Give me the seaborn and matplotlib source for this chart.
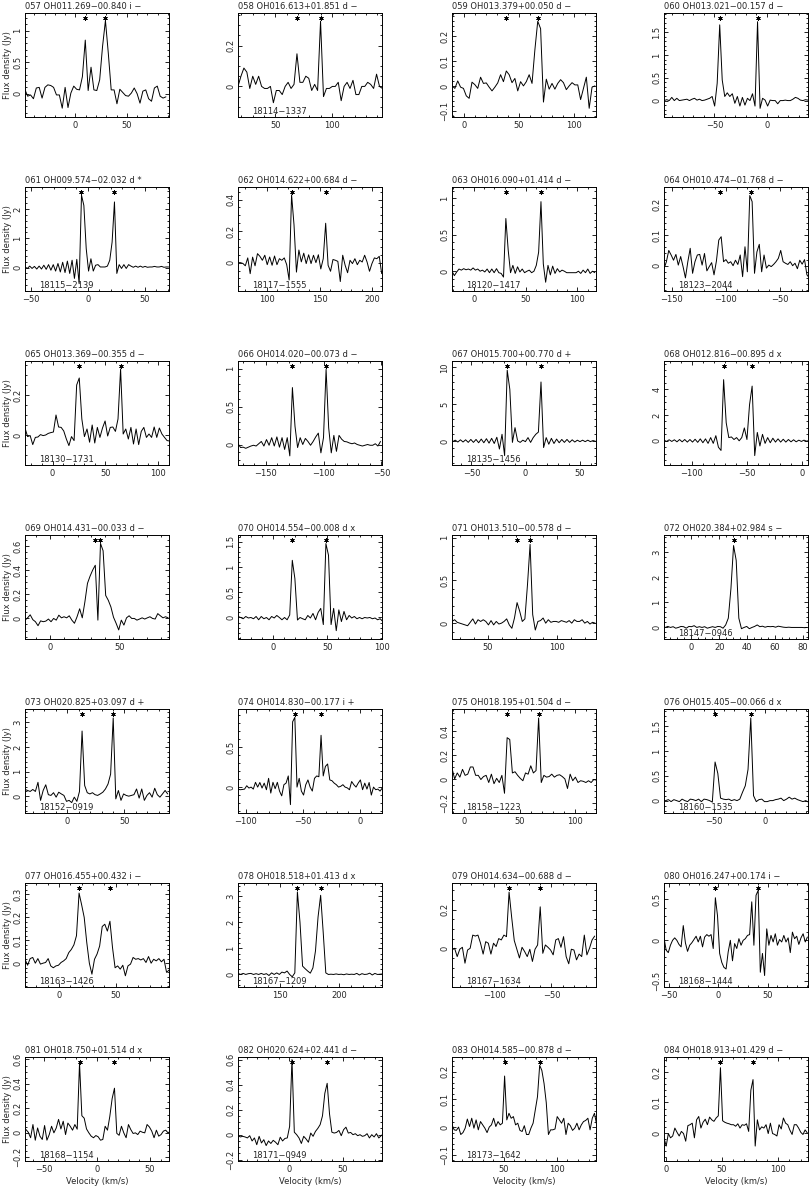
import numpy as np
import matplotlib
matplotlib.use("Agg")
import matplotlib.pyplot as plt
import matplotlib.transforms as mtransforms
from matplotlib.ticker import MultipleLocator, AutoMinorLocator
from matplotlib import font_manager
import seaborn as sns

# ---------------- data ----------------
titles = [
    "057 OH011.269−00.840 i −", "058 OH016.613+01.851 d −", "059 OH013.379+00.050 d −", "060 OH013.021−00.157 d −",
    "061 OH009.574−02.032 d *", "062 OH014.622+00.684 d −", "063 OH016.090+01.414 d −", "064 OH010.474−01.768 d −",
    "065 OH013.369−00.355 d −", "066 OH014.020−00.073 d −", "067 OH015.700+00.770 d +", "068 OH012.816−00.895 d x",
    "069 OH014.431−00.033 d −", "070 OH014.554−00.008 d x", "071 OH013.510−00.578 d −", "072 OH020.384+02.984 s −",
    "073 OH020.825+03.097 d +", "074 OH014.830−00.177 i +", "075 OH018.195+01.504 d −", "076 OH015.405−00.066 d x",
    "077 OH016.455+00.432 i −", "078 OH018.518+01.413 d x", "079 OH014.634−00.688 d −", "080 OH016.247+00.174 i −",
    "081 OH018.750+01.514 d x", "082 OH020.624+02.441 d −", "083 OH014.585−00.878 d −", "084 OH018.913+01.429 d −",
]
source_labels = [
    "", "18114−1337", "", "",
    "18115−2139", "18117−1555", "18120−1417", "18123−2044",
    "18130−1731", "", "18135−1456", "",
    "", "", "", "18147−0946",
    "18152−0919", "", "18158−1223", "18160−1535",
    "18163−1426", "18167−1209", "18167−1634", "18168−1444",
    "18168−1154", "18171−0949", "18173−1642", "",
]
# first channel velocity and channel width (km/s)
vel_start = [-52, 17, -11, -97.8, -55, 73, -21, -157,
             -26, -174, -67.4, -125, -18, -32, 24, -20.5,
             -37, -107, -11, -102.8, -30, 115, -137, -55,
             -69.3, -48, 1, -1.5]
vel_step = [2.8, 2.6, 2.6, 2.4, 2.06, 2.3, 2.26, 2.2,
            2.44, 2.24, 2.4, 2.34, 1.88, 2.37, 1.88, 1.88,
            2.27, 1.92, 2.37, 2.69, 2.27, 2.17, 2.27, 2.17,
            2.2, 2.2, 2.07, 1.93]
star_vel = [[9.6, 29.2], [69.0, 89.8], [38.4, 67.0], [-45.0, -9.0],
            [-5.6, 23.3], [123.6, 155.8], [31.0, 64.9], [-105.0, -77.0],
            [25.2, 64.3], [-127.0, -97.8], [-17.0, 14.2], [-71.2, -45.4],
            [32.8, 36.5], [17.8, 48.6], [71.0, 80.4], [30.3],
            [12.9, 40.2], [-57.1, -34.0], [38.8, 67.2], [-49.0, -14.0],
            [17.7, 44.9], [164.9, 184.4], [-87.1, -59.8], [-2.9, 40.5],
            [-16.5, 16.5], [2.6, 35.6], [50.7, 83.8], [48.7, 77.6]]
x_range = [(-49, 91), (17, 144), (-11, 120), (-98, 39),
           (-55, 71), (73, 209), (-21, 118), (-157, -24),
           (-26, 110), (-174, -49.5), (-68, 65), (-125, 5),
           (-18, 86), (-32, 100), (24, 128), (-19.5, 83.5),
           (-37, 89), (-107, 19.5), (-11, 119), (-99, 42),
           (-30, 97), (115, 236), (-137, -11), (-55, 91),
           (-68, 68), (-48, 87), (1, 137), (-1.5, 126.5)]
x_major = [50, 50, 50, 50, 50, 50, 50, 50,
           50, 50, 50, 50, 50, 50, 50, 20,
           50, 50, 50, 50, 50, 50, 50, 50,
           50, 50, 50, 50]
y_range = [(-0.37, 1.28), (-0.15, 0.36), (-0.125, 0.293), (-0.36, 1.92),
           (-0.8, 2.75), (-0.18, 0.48), (-0.27, 1.15), (-0.083, 0.258),
           (-0.15, 0.37), (-0.27, 1.1), (-3.27, 10.85), (-1.88, 6.2),
           (-0.17, 0.69), (-0.425, 1.63), (-0.185, 1.03), (-0.46, 3.68),
           (-0.67, 3.53), (-0.325, 0.98), (-0.285, 0.585), (-0.25, 1.85),
           (-0.104, 0.35), (-0.48, 3.5), (-0.2, 0.337), (-0.57, 0.70),
           (-0.23, 0.62), (-0.21, 0.62), (-0.123, 0.254), (-0.092, 0.249)]
y_ticks = [[0, 0.5, 1], [0, 0.2], [-0.1, 0, 0.1, 0.2], [0, 0.5, 1, 1.5],
           [0, 1, 2], [0, 0.2, 0.4], [0, 0.5, 1], [0, 0.1, 0.2],
           [0, 0.2], [0, 0.5, 1], [0, 5, 10], [0, 2, 4],
           [0, 0.2, 0.4, 0.6], [0, 0.5, 1, 1.5], [0, 0.5, 1], [0, 1, 2, 3],
           [0, 1, 2, 3], [0, 0.5], [-0.2, 0, 0.2, 0.4], [0, 0.5, 1, 1.5],
           [0, 0.1, 0.2, 0.3], [0, 1, 2, 3], [0, 0.2], [-0.5, 0, 0.5],
           [-0.2, 0, 0.2, 0.4, 0.6], [-0.2, 0, 0.2, 0.4, 0.6], [-0.1, 0, 0.1, 0.2], [0, 0.1, 0.2]]

flux_057 = [0.06, 0.07, -0.04, -0.02, -0.08, 0.09, 0.10, -0.07, 0.10, 0.14, 0.13, 0.10, -0.02, -0.02, -0.23, 0.10, -0.22,
            0.01, 0.12, 0.07, 0.06, 0.27, 0.85, 0.05, 0.42, 0.06, 0.05, 0.22, 0.75, 1.16, 0.64, 0.06, 0.06, -0.16, 0.07,
            0.02, -0.03, -0.04, 0.01, 0.09, 0.00, -0.15, 0.04, 0.06, -0.08, -0.12, 0.09, 0.12, -0.04, -0.07, -0.05]
flux_058 = [0.0, 0.05, 0.09, 0.07, -0.01, 0.05, 0.01, 0.05, 0.0, -0.01, -0.01, 0.0, -0.08, -0.02, -0.02, -0.04, 0.0, 0.02,
            -0.01, 0.01, 0.16, 0.02, 0.02, 0.05, 0.04, -0.02, 0.01, -0.02, 0.32, -0.05, -0.01, -0.01, 0.0, 0.0, 0.02,
            -0.07, 0.0, 0.02, -0.01, 0.03, -0.04, -0.04, 0.0, 0.0, 0.02, 0.01, -0.01, 0.06, 0.0, -0.01]
flux_059 = [0.0, -0.01, 0.02, -0.005, -0.01, -0.04, -0.05, 0.015, 0.005, -0.01, 0.035, 0.01, 0.012, -0.005, -0.02, -0.005,
            0.012, 0.045, 0.017, 0.06, 0.045, 0.013, 0.03, -0.02, 0.017, 0.0, 0.017, 0.045, 0.01, 0.145, 0.26, 0.23,
            -0.065, 0.027, -0.013, 0.01, -0.013, 0.01, 0.025, 0.013, -0.015, 0.0, 0.013, 0.004, 0.004, -0.055, -0.01,
            0.035, -0.09, -0.005, 0.0]
flux_060 = [0.0, 0.02, 0.0, 0.07, 0.0, 0.05, 0.0, 0.01, 0.02, 0.03, 0.0, 0.03, 0.05, 0.01, 0.03, 0.0, 0.01, 0.03, 0.05,
            0.09, -0.12, 0.38, 1.66, 0.45, 0.09, 0.17, 0.09, 0.15, -0.06, 0.09, -0.12, 0.07, -0.1, 0.05, 0.0, 0.15, -0.12,
            1.73, -0.17, 0.05, 0.01, -0.12, 0.01, 0.0, 0.0, -0.07, 0.0, 0.0, 0.01, 0.0, 0.0, 0.03, 0.07, 0.05, 0.01, 0.0,
            0.02, 0.01]
flux_061 = [0.02, -0.03, 0.05, -0.03, 0.04, -0.05, 0.05, -0.05, 0.08, -0.06, 0.1, -0.09, 0.1, -0.12, 0.14, -0.15, 0.18,
            -0.17, 0.22, -0.2, 0.25, -0.37, 0.28, -0.55, 2.47, 2.12, 0.65, -0.12, 0.3, -0.12, 0.08, 0.1, 0.02, 0.02, 0.02,
            0.05, 0.25, 0.87, 2.24, -0.2, 0.1, -0.03, 0.1, -0.03, 0.1, 0.05, 0.01, 0.05, 0.01, 0.05, 0.01, 0.04, 0.01,
            0.02, 0.02, 0.04, 0.02, 0.02, 0.04, 0.01, 0.02, 0.02]
flux_062 = [0.0, 0.0, -0.005, -0.02, 0.03, -0.07, 0.035, -0.02, 0.057, 0.04, 0.015, 0.047, -0.013, 0.036, -0.017, 0.042,
            -0.013, 0.025, 0.015, 0.03, -0.013, -0.11, 0.43, 0.24, -0.06, 0.08, 0.005, 0.06, -0.006, 0.05, -0.006, 0.047,
            0.0, 0.05, -0.04, 0.025, 0.25, -0.017, -0.055, 0.02, 0.015, 0.008, -0.12, 0.047, -0.017, -0.064, 0.015,
            -0.006, 0.025, -0.013, 0.015, 0.004, 0.047, 0.004, -0.055, -0.006, 0.03, 0.025, 0.04, -0.07]
flux_063 = [0.0, -0.06, -0.01, 0.03, 0.015, 0.035, 0.02, 0.03, 0.015, 0.045, 0.015, 0.03, 0.0, 0.015, -0.01, 0.03, -0.02,
            0.03, -0.02, 0.035, -0.02, -0.03, -0.08, 0.72, 0.29, -0.02, 0.08, -0.03, 0.06, -0.01, 0.03, -0.02, 0.0, 0.015,
            -0.02, 0.0, 0.08, 0.26, 0.95, 0.1, -0.15, 0.08, -0.05, 0.07, -0.03, 0.035, -0.01, 0.015, 0.0, -0.02, -0.02,
            -0.02, -0.02, -0.02, 0.0, -0.03, 0.015, -0.02, 0.03, -0.03, 0.0, -0.02]
flux_064 = [-0.01, 0.013, 0.05, 0.035, 0.018, 0.037, 0.002, 0.03, -0.003, -0.04, 0.013, 0.057, -0.025, 0.013, 0.035,
            0.037, 0.002, 0.04, -0.017, -0.003, 0.01, -0.03, 0.015, 0.084, 0.095, 0.013, 0.02, 0.008, 0.013, 0.0, 0.018,
            0.004, 0.035, -0.036, 0.062, -0.02, 0.23, 0.21, -0.025, 0.045, 0.07, -0.02, 0.035, -0.008, 0.002, -0.003,
            0.004, 0.013, 0.024, 0.05, 0.013, 0.008, 0.004, 0.013, 0.0, 0.008, -0.01, 0.018, 0.005, 0.02, -0.03, -0.04]
flux_065 = [0.035, -0.008, -0.003, -0.048, -0.012, -0.01, 0.002, -0.003, 0.0, 0.008, 0.012, 0.015, 0.1, 0.04, 0.038,
            0.02, -0.02, -0.053, -0.008, -0.028, 0.25, 0.285, 0.08, -0.008, 0.03, -0.036, 0.05, -0.04, 0.038, -0.012,
            0.035, 0.07, -0.005, 0.038, 0.04, 0.018, 0.08, 0.33, 0.005, 0.03, -0.02, 0.038, -0.045, 0.03, -0.048, 0.018,
            0.038, -0.012, 0.005, -0.012, 0.04, -0.012, 0.035, 0.005, -0.012, -0.028, -0.03]
flux_066 = [0.01, -0.04, -0.035, -0.05, -0.035, -0.02, -0.01, -0.02, 0.01, 0.04, -0.02, 0.065, -0.01, 0.09, -0.02, 0.1,
            -0.035, 0.09, -0.065, 0.09, -0.15, 0.75, 0.24, -0.04, 0.09, 0.0, 0.08, 0.04, -0.01, 0.04, 0.1, 0.15, -0.11,
            0.09, 0.99, 0.22, -0.11, 0.12, -0.09, 0.12, 0.07, 0.04, 0.035, 0.02, 0.01, 0.02, 0.0, -0.01, -0.02, -0.01,
            0.0, -0.01, -0.01, 0.01, -0.02, 0.04]
flux_067 = [-0.1, 0.1, -0.15, 0.15, -0.15, 0.15, -0.2, 0.2, -0.2, 0.2, -0.25, 0.25, -0.25, 0.3, -0.3, 0.35, -0.35, 0.5,
            -1.1, 0.9, -2.0, 9.6, 7.0, -0.2, 1.8, 0.0, -0.2, 0.1, -0.1, 0.45, -0.2, 0.45, 0.9, 1.2, 8.0, -0.9, 0.45,
            -0.45, 0.35, -0.35, 0.25, -0.25, 0.2, -0.2, 0.2, -0.2, 0.15, -0.15, 0.1, -0.1, 0.1, -0.1, 0.1, -0.1, 0.05,
            -0.05]
flux_068 = [0.05, -0.05, 0.08, -0.05, 0.08, -0.08, 0.1, -0.08, 0.1, -0.1, 0.1, -0.1, 0.12, -0.12, 0.15, -0.15, 0.15, -0.2,
            0.25, -0.2, 0.4, -0.5, -0.75, 4.75, 1.4, 0.25, 0.3, 0.1, 0.25, 0.0, 0.25, 1.0, 0.1, 2.8, 4.25, -1.15, 0.65,
            -0.4, 0.5, -0.2, 0.25, -0.15, 0.2, -0.1, 0.15, -0.1, 0.12, -0.1, 0.1, -0.08, 0.08, -0.08, 0.05, -0.05, 0.05,
            -0.03, 0.02]
flux_069 = [-0.014, 0.005, 0.03, -0.01, -0.027, -0.06, -0.02, -0.027, -0.022, -0.005, -0.027, 0.0, -0.014, 0.027, 0.005,
            0.014, 0.005, 0.022, -0.014, -0.04, 0.014, 0.08, 0.005, 0.136, 0.29, 0.35, 0.4, 0.44, -0.014, 0.62, 0.56,
            0.19, 0.15, 0.095, 0.01, -0.04, -0.095, -0.014, -0.055, 0.005, 0.022, 0.0, 0.0, -0.014, -0.005, 0.005,
            -0.005, 0.005, 0.014, 0.0, -0.005, 0.04, 0.022, 0.005, 0.014, 0.005]
flux_070 = [0.02, 0.0, -0.025, 0.02, -0.01, 0.0, -0.025, 0.02, -0.045, 0.02, -0.025, 0.0, -0.045, 0.02, -0.01, 0.04, 0.0,
            -0.045, 0.0, -0.045, 0.05, 1.13, 0.77, -0.05, 0.0, -0.025, -0.045, 0.04, -0.01, 0.08, -0.045, 0.1, 0.18,
            -0.14, 1.46, 1.23, -0.14, 0.18, -0.26, 0.15, -0.08, 0.12, -0.045, 0.04, -0.01, 0.02, -0.025, 0.0, -0.025,
            0.0, -0.01, 0.0, -0.025, -0.01, -0.045, -0.025, -0.08]
flux_071 = [0.02, 0.04, 0.01, 0.0, -0.01, -0.02, -0.03, 0.01, 0.05, -0.01, 0.04, 0.02, 0.04, 0.02, -0.02, 0.03, -0.02,
            0.02, -0.01, 0.0, 0.02, 0.05, -0.02, -0.06, 0.06, 0.24, 0.14, 0.02, 0.05, 0.45, 0.92, 0.1, -0.08, 0.02, 0.03,
            0.06, 0.0, 0.04, 0.01, 0.02, 0.02, 0.01, 0.03, 0.02, 0.01, 0.03, 0.0, 0.04, 0.02, 0.02, 0.04, 0.0, 0.02,
            -0.01, 0.01, 0.0]
flux_072 = [0.04, 0.0, 0.04, 0.0, 0.03, -0.03, 0.0, 0.04, 0.03, -0.03, 0.04, 0.03, 0.07, 0.0, 0.03, 0.0, 0.03, -0.03, 0.0,
            0.03, 0.0, 0.04, 0.03, -0.03, 0.1, 0.37, 1.55, 3.26, 2.67, 0.37, -0.05, 0.0, 0.04, -0.05, 0.0, 0.04, 0.1,
            0.03, 0.05, 0.01, 0.04, 0.03, 0.04, 0.01, 0.05, 0.03, 0.01, 0.0, 0.01, 0.0, 0.0, 0.0, 0.0, 0.0, -0.01, 0.0]
flux_073 = [0.28, 0.24, 0.2, 0.28, 0.2, 0.57, -0.16, 0.24, 0.47, 0.07, 0.04, 0.15, -0.03, 0.17, 0.1, 0.04, -0.2, -0.16,
            -0.25, -0.03, -0.2, 0.2, 2.64, 0.44, 0.15, 0.1, 0.15, 0.07, 0.04, 0.1, 0.17, 0.3, 0.5, 0.9, 3.17, -0.1, 0.24,
            -0.16, 0.1, 0.04, 0.01, 0.04, 0.07, 0.3, -0.07, 0.3, -0.16, 0.04, 0.15, -0.03, 0.33, 0.07, -0.03, 0.1, 0.24,
            0.1]
flux_074 = [-0.025, -0.033, -0.03, -0.025, 0.017, -0.012, 0.0, -0.025, 0.06, 0.0, 0.058, -0.012, 0.05, -0.033, 0.11,
            -0.075, 0.06, -0.02, 0.06, -0.05, -0.11, 0.03, 0.05, 0.14, -0.22, 0.82, 0.875, 0.0, 0.11, -0.05, -0.1, 0.03,
            0.09, 0.0, -0.05, 0.11, 0.14, 0.13, 0.65, 0.14, 0.26, 0.29, 0.09, 0.08, 0.05, 0.03, 0.0, 0.01, 0.03, 0.0,
            -0.01, -0.033, 0.07, 0.03, 0.0, 0.05, 0.09, -0.033, 0.05, -0.025, 0.058, -0.1, 0.0, -0.033, -0.025, -0.05,
            -0.012]
flux_075 = [0.09, 0.0, 0.05, 0.015, 0.08, 0.03, 0.04, 0.1, 0.1, 0.03, 0.03, -0.005, 0.02, 0.03, -0.03, 0.04, -0.04, 0.005,
            -0.03, 0.03, -0.12, 0.345, 0.33, 0.05, 0.06, 0.03, 0.005, -0.015, 0.05, 0.04, 0.11, 0.05, 0.07, 0.51, -0.03,
            0.03, 0.015, 0.02, 0.04, 0.015, 0.03, 0.035, 0.02, 0.0, -0.08, 0.04, -0.015, 0.015, -0.03, -0.015, -0.02,
            -0.03, -0.015, -0.03, -0.005, -0.01]
flux_076 = [0.03, -0.02, 0.0, 0.02, -0.02, 0.02, 0.0, -0.02, 0.03, 0.0, -0.02, 0.03, 0.02, 0.0, 0.03, -0.02, 0.03, 0.02,
            0.0, -0.03, 0.78, 0.55, 0.05, 0.03, 0.02, 0.03, 0.0, 0.02, 0.0, 0.03, 0.17, 0.3, 0.63, 1.67, 0.1, -0.02, 0.02,
            0.03, -0.02, -0.02, 0.0, 0.0, 0.02, 0.03, 0.05, 0.0, 0.03, 0.07, 0.03, 0.05, 0.02, 0.0, -0.02, 0.0, -0.03]
flux_077 = [0.017, -0.009, 0.02, 0.025, 0.0, 0.02, -0.004, 0.0, 0.003, 0.02, -0.012, -0.02, -0.012, -0.009, 0.003, 0.01,
            0.02, 0.046, 0.06, 0.08, 0.12, 0.306, 0.255, 0.2, 0.09, 0.0, -0.048, 0.017, 0.04, 0.075, 0.16, 0.17, 0.14,
            0.183, 0.068, -0.02, -0.012, -0.026, -0.009, -0.055, -0.012, -0.004, 0.025, 0.017, 0.02, 0.014, 0.02, 0.003,
            0.029, 0.0, 0.017, 0.01, 0.02, 0.006, 0.017, -0.04, -0.03]
flux_078 = [0.04, 0.0, 0.04, 0.0, 0.03, 0.04, 0.0, 0.03, 0.0, 0.04, 0.0, 0.03, -0.04, 0.06, 0.0, 0.06, 0.0, 0.09, 0.06,
            0.13, 0.0, -0.09, 0.06, 3.16, 2.0, 0.32, 0.22, 0.13, 0.05, 0.25, 0.9, 2.2, 3.03, 1.6, 0.06, 0.0, 0.01, 0.0,
            0.02, 0.0, 0.01, -0.01, 0.02, 0.0, 0.01, 0.0, 0.04, -0.02, 0.03, 0.0, 0.01, 0.05, -0.02, 0.04, 0.0, 0.01, 0.02]
flux_079 = [-0.009, 0.0, -0.043, -0.005, 0.005, -0.077, -0.009, 0.0, 0.068, 0.063, 0.068, 0.026, -0.03, 0.034, 0.026,
            -0.03, 0.026, 0.009, 0.05, 0.043, 0.068, 0.06, 0.29, 0.16, 0.04, -0.005, -0.05, 0.005, -0.017, -0.043, -0.005,
            -0.068, -0.005, 0.017, 0.214, -0.026, 0.017, 0.005, -0.009, -0.034, 0.043, 0.05, 0.005, 0.06, -0.043, -0.08,
            -0.005, -0.009, -0.06, -0.03, -0.043, 0.068, -0.034, 0.0, 0.043, 0.063]
flux_080 = [0.03, -0.12, -0.15, -0.06, 0.0, 0.03, 0.0, -0.05, -0.08, 0.18, -0.03, -0.135, -0.06, -0.03, 0.01, 0.05, -0.02,
            0.05, -0.08, 0.04, 0.07, 0.05, 0.07, -0.1, 0.52, 0.3, -0.16, -0.27, -0.33, -0.35, -0.14, 0.0, -0.25, -0.04,
            -0.1, 0.02, -0.06, 0.0, 0.02, 0.06, 0.07, 0.47, -0.06, 0.55, 0.61, -0.39, -0.16, -0.43, 0.14, -0.06, 0.06,
            -0.02, 0.08, -0.06, 0.01, -0.02, 0.06, -0.02, 0.03, -0.15, 0.1, 0.02, 0.05, -0.05, 0.03, 0.08, -0.02, 0.04]
flux_081 = [0.04, 0.027, 0.005, -0.04, 0.068, -0.06, 0.04, -0.027, -0.054, 0.06, -0.06, -0.014, 0.054, 0.0, 0.04, 0.11,
            0.032, 0.095, -0.014, 0.08, 0.054, 0.022, 0.068, 0.03, 0.57, 0.14, 0.12, 0.032, 0.0, -0.027, -0.04, -0.022,
            -0.032, -0.06, -0.054, 0.054, 0.022, 0.135, 0.28, 0.365, -0.004, -0.02, 0.054, 0.0, -0.04, 0.068, 0.027,
            -0.005, 0.0, -0.014, 0.014, 0.005, 0.0, 0.068, 0.048, 0.014, -0.04, 0.022, -0.027, -0.014, 0.014, 0.022, 0.0,
            0.014, -0.027, -0.014]
flux_082 = [-0.008, -0.018, -0.013, -0.018, -0.026, -0.008, -0.05, -0.026, -0.08, -0.013, -0.066, -0.04, -0.087, -0.05,
            -0.07, -0.045, -0.06, -0.08, -0.02, -0.05, -0.03, -0.026, 0.066, 0.6, 0.02, 0.0, -0.026, -0.07, -0.013,
            -0.034, -0.06, 0.013, -0.013, 0.026, 0.05, 0.08, 0.15, 0.33, 0.41, 0.166, 0.02, 0.013, 0.018, 0.034, -0.008,
            0.04, 0.06, 0.013, 0.018, 0.0, 0.008, -0.008, 0.0, -0.013, -0.008, 0.008, -0.026, 0.0, -0.018, 0.008, -0.026,
            -0.008, 0.008]
flux_083 = [0.008, -0.01, -0.012, 0.0, -0.027, -0.02, -0.004, 0.029, 0.002, 0.032, -0.004, 0.026, -0.01, 0.02, 0.008,
            -0.004, -0.02, 0.0, 0.008, 0.032, 0.002, 0.02, 0.008, 0.014, 0.185, 0.026, 0.05, 0.032, 0.038, 0.008, 0.014,
            -0.012, -0.016, 0.005, -0.027, -0.027, -0.004, 0.014, 0.062, 0.11, 0.224, 0.205, 0.158, 0.089, -0.027, -0.01,
            -0.01, -0.007, 0.038, 0.026, 0.014, 0.032, -0.027, 0.014, 0.005, -0.012, -0.004, 0.014, -0.01, 0.008, 0.02,
            0.024, 0.032, -0.01, 0.032, 0.05, 0.008, 0.0]
flux_084 = [-0.016, -0.043, -0.002, -0.016, -0.01, 0.016, 0.002, -0.01, 0.005, -0.002, -0.027, 0.024, 0.027, 0.032,
            -0.016, 0.043, 0.054, 0.016, 0.035, 0.045, 0.027, 0.052, 0.043, 0.038, 0.049, 0.056, 0.214, 0.04, 0.035,
            0.032, 0.03, 0.027, 0.027, 0.022, 0.03, 0.016, 0.027, 0.025, 0.03, 0.005, 0.14, 0.175, -0.043, 0.043, 0.01,
            0.02, 0.016, 0.027, -0.002, 0.032, -0.002, -0.005, -0.01, 0.027, 0.013, 0.049, 0.032, 0.027, 0.009, -0.005,
            0.027, 0.027, 0.016, 0.002, -0.005, 0.01, 0.0]

fluxes = [flux_057, flux_058, flux_059, flux_060, flux_061, flux_062, flux_063, flux_064,
          flux_065, flux_066, flux_067, flux_068, flux_069, flux_070, flux_071, flux_072,
          flux_073, flux_074, flux_075, flux_076, flux_077, flux_078, flux_079, flux_080,
          flux_081, flux_082, flux_083, flux_084]

# ---------------- style ----------------
sns.set_style("ticks")
available = {f.name for f in font_manager.fontManager.ttflist}
if "Liberation Sans Narrow" in available:
    plt.rcParams["font.family"] = ["Liberation Sans Narrow", "DejaVu Sans"]
    fs = 6.9
else:
    plt.rcParams["font.family"] = ["DejaVu Sans"]
    fs = 6.0
plt.rcParams["axes.unicode_minus"] = True

W, H = 811, 1186
fig = plt.figure(figsize=(W / 100, H / 100), dpi=100)
fig.patch.set_facecolor("white")

col_left = [25, 238, 452, 664]
ax_w, ax_h = 144, 104
row_top0, row_step = 13, 174


def tick_text(t):
    return ("%g" % t).replace("-", "−")


for i in range(len(fluxes)):
    r, c = divmod(i, 4)
    top = row_top0 + r * row_step
    ax = fig.add_axes([col_left[c] / W, 1 - (top + ax_h) / H, ax_w / W, ax_h / H])
    f = np.asarray(fluxes[i], dtype=float)
    v = vel_start[i] + vel_step[i] * np.arange(len(f))
    sns.lineplot(x=v, y=f, ax=ax, color="black", linewidth=0.7, estimator=None, sort=False)
    ax.set_xlim(*x_range[i])
    ax.set_ylim(*y_range[i])
    ax.xaxis.set_major_locator(MultipleLocator(x_major[i]))
    ax.xaxis.set_minor_locator(AutoMinorLocator())
    ax.set_yticks(y_ticks[i])
    ax.set_yticklabels([tick_text(t) for t in y_ticks[i]], rotation=90, va="center")
    ax.yaxis.set_minor_locator(AutoMinorLocator())
    ax.tick_params(which="both", direction="in", top=True, right=True, labelsize=fs,
                   width=0.6, color="black")
    ax.tick_params(which="major", length=3.0, pad=3)
    ax.tick_params(which="minor", length=1.5)
    ax.tick_params(axis="y", pad=2)
    for sp in ax.spines.values():
        sp.set_linewidth(0.7)
        sp.set_color("black")
    ax.set_title(titles[i], loc="left", pad=3, fontsize=fs)
    trans = mtransforms.blended_transform_factory(ax.transData, ax.transAxes)
    sv = star_vel[i]
    ax.plot(sv, [0.955] * len(sv), ls="none", marker=(6, 2, 0), ms=3.2, mew=0.6,
            color="black", transform=trans, clip_on=False)
    if source_labels[i]:
        ax.text(0.10, 0.005, source_labels[i], transform=ax.transAxes, ha="left", va="bottom", fontsize=fs)
    ax.set_xlabel("")
    ax.set_ylabel("")
    if c == 0:
        ax.set_ylabel("Flux density (Jy)", fontsize=fs, labelpad=1)
    if r == 6:
        ax.set_xlabel("Velocity (km/s)", fontsize=fs, labelpad=2)

fig.savefig("out.png", dpi=100, facecolor="white")
